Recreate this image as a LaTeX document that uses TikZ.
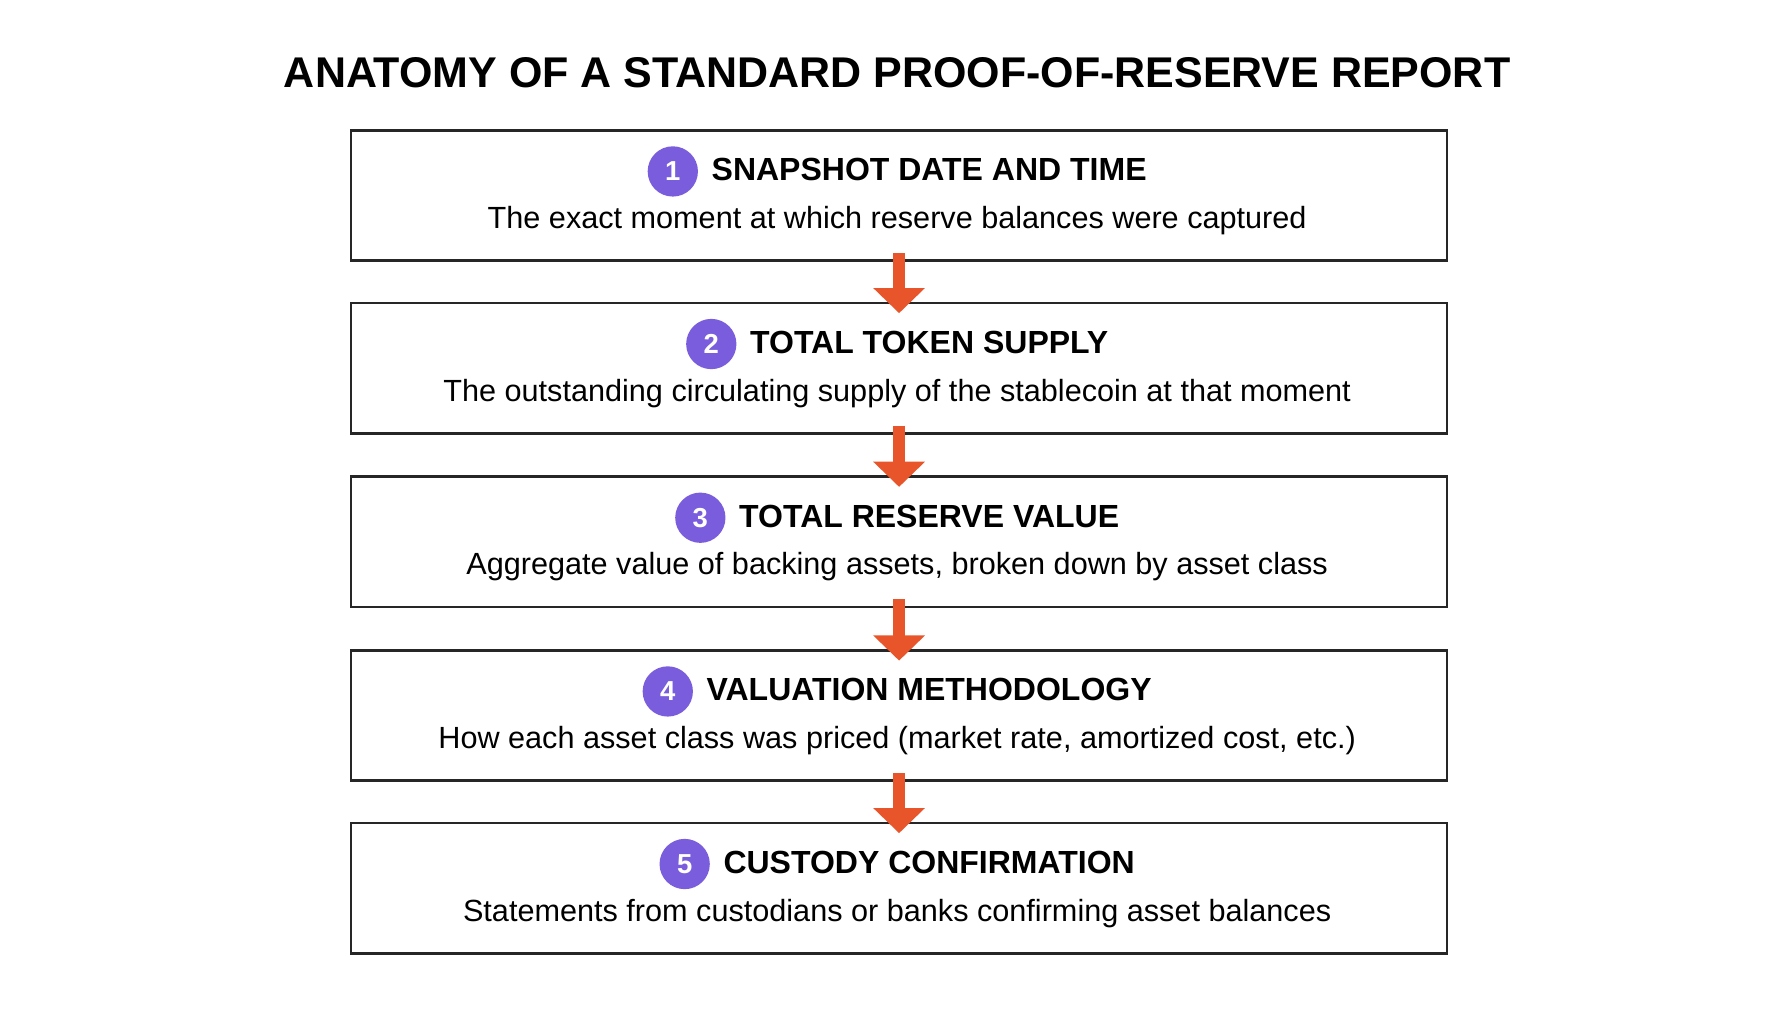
\documentclass[tikz,border=0pt]{standalone}
\usepackage{fontspec}
\setmainfont{Liberation Sans}
\usetikzlibrary{arrows.meta}
\definecolor{arr}{HTML}{E8552A}
\definecolor{pur}{HTML}{7A5DDC}
\begin{document}
\begin{tikzpicture}[x=0.5pt,y=-0.5pt,
  box/.style={draw=black!85,line width=1.2pt,minimum width=479.5pt,minimum height=57pt,anchor=north west,inner sep=0pt},
  num/.style={circle,fill=pur,text=white,minimum size=22pt,inner sep=0pt,font=\bfseries\fontsize{12}{12}\selectfont},
  body/.style={font=\fontsize{13.4}{15}\selectfont},
  flow/.style={draw=arr,line width=5pt,-{Triangle[width=22pt,length=11pt]}}]
\useasboundingbox (0,0) rectangle (1568,896);
\fill[white] (0,0) rectangle (1568,896);
\node[font=\bfseries\fontsize{18.8}{22}\selectfont] (title) at (785,64) {ANATOMY OF A STANDARD PROOF-OF-RESERVE REPORT};
\foreach \i/\y/\h/\b in {
 1/113/SNAPSHOT DATE AND TIME/The exact moment at which reserve balances were captured,
 2/264/TOTAL TOKEN SUPPLY/The outstanding circulating supply of the stablecoin at that moment,
 3/416/TOTAL RESERVE VALUE/{Aggregate value of backing assets, broken down by asset class},
 4/568/VALUATION METHODOLOGY/{How each asset class was priced (market rate, amortized cost, etc.)},
 5/719/CUSTODY CONFIRMATION/Statements from custodians or banks confirming asset balances}{
  \node[box] (b\i) at (306,\y) {};
  \node[anchor=center] (hh\i) at (785,\y+37) {\tikz[baseline=(n.base)]\node[num] (n) {\i};\hspace{6pt}{\bfseries\fontsize{14}{16}\selectfont \h}};
  \node[body] (t\i) at (785,\y+80) {\b};
}
\foreach \a/\c in {1/2,2/3,3/4,4/5}{
  \draw[flow] ([yshift=4pt]b\a.south) -- ([yshift=-5pt]b\c.north);
}
\end{tikzpicture}
\end{document}
